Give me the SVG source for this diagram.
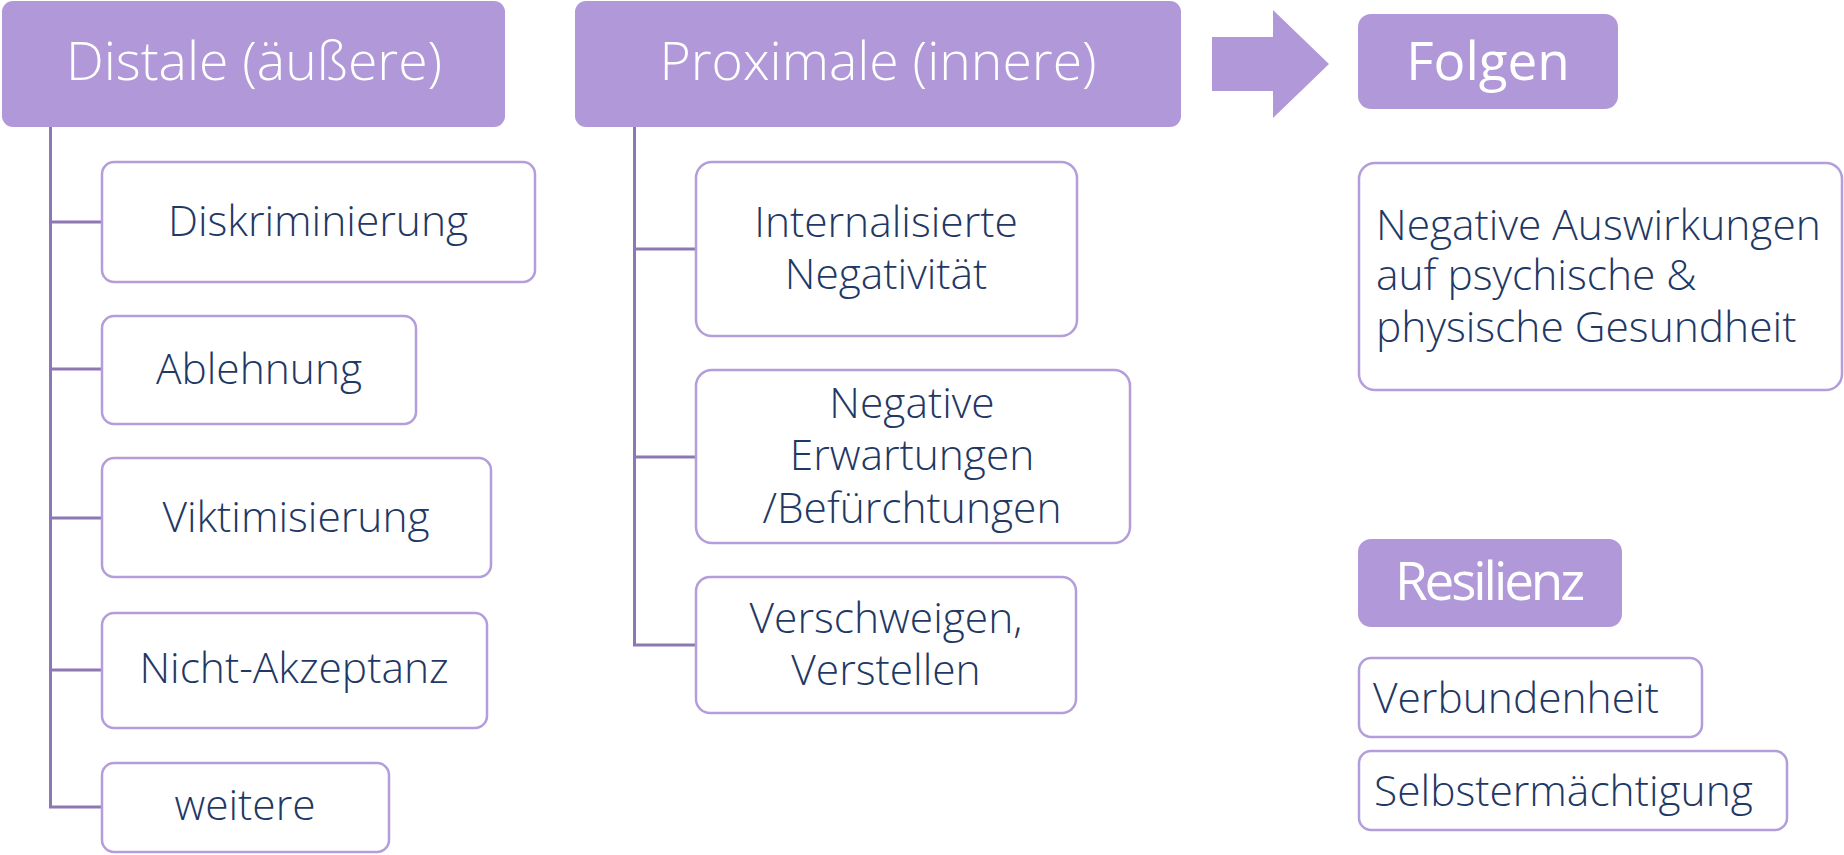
<svg xmlns="http://www.w3.org/2000/svg" width="1844" height="855" viewBox="0 0 1844 855">
<style>
.hdr{fill:#b199d9;}
.box{fill:#ffffff;stroke:#b39ddb;stroke-width:2.5;}
.conn{fill:none;stroke:#8c78b2;stroke-width:3;}
.ht{font-family:"Open Sans","Liberation Sans",sans-serif;font-weight:300;font-size:53.5px;fill:#ffffff;text-anchor:middle;}
.ht2{font-family:"Open Sans","Liberation Sans",sans-serif;font-weight:400;font-size:53px;fill:#ffffff;text-anchor:middle;}
.t{font-family:"Open Sans","Liberation Sans",sans-serif;font-weight:300;font-size:42.5px;fill:#1f3864;text-anchor:middle;}
.tl{font-family:"Open Sans","Liberation Sans",sans-serif;font-weight:300;font-size:42.5px;fill:#1f3864;}
</style>
<rect width="1844" height="855" fill="#ffffff"/>
<g id="connectors">
<polyline class="conn" points="50.5,126 50.5,807 101,807"/>
<line class="conn" x1="50.5" y1="222" x2="101" y2="222"/>
<line class="conn" x1="50.5" y1="369" x2="101" y2="369"/>
<line class="conn" x1="50.5" y1="518" x2="101" y2="518"/>
<line class="conn" x1="50.5" y1="670" x2="101" y2="670"/>
<polyline class="conn" points="634.5,126 634.5,645 695,645"/>
<line class="conn" x1="634.5" y1="249" x2="695" y2="249"/>
<line class="conn" x1="634.5" y1="457" x2="695" y2="457"/>
</g>
<g id="distale">
<rect class="hdr" x="2" y="1" width="503" height="126" rx="11"/>
<text class="ht" x="254" y="80">Distale (äußere)</text>
</g>
<g id="proximale">
<rect class="hdr" x="575" y="1" width="606" height="126" rx="11"/>
<text class="ht" x="878" y="80">Proximale (innere)</text>
</g>
<g id="arrow">
<polygon class="hdr" points="1212,37 1273,37 1273,10 1329,64 1273,118 1273,91 1212,91"/>
</g>
<g id="folgen">
<rect class="hdr" x="1358" y="14" width="260" height="95" rx="13"/>
<text class="ht2" x="1488" y="80">Folgen</text>
</g>
<g id="resilienz">
<rect class="hdr" x="1358" y="539" width="264" height="88" rx="13"/>
<text class="ht2" x="1490" y="600" font-size="51" textLength="190" lengthAdjust="spacing">Resilienz</text>
</g>
<g id="diskriminierung">
<rect class="box" x="102" y="162" width="433" height="120" rx="12"/>
<text class="t" x="318" y="236">Diskriminierung</text>
</g>
<g id="ablehnung">
<rect class="box" x="102" y="316" width="314" height="108" rx="12"/>
<text class="t" x="259" y="384">Ablehnung</text>
</g>
<g id="viktimisierung">
<rect class="box" x="102" y="458" width="389" height="119" rx="12"/>
<text class="t" x="296" y="532">Viktimisierung</text>
</g>
<g id="nicht-akzeptanz">
<rect class="box" x="102" y="613" width="385" height="115" rx="12"/>
<text class="t" x="294" y="683">Nicht-Akzeptanz</text>
</g>
<g id="weitere">
<rect class="box" x="102" y="763" width="287" height="89" rx="12"/>
<text class="t" x="245" y="820">weitere</text>
</g>
<g id="internalisierte">
<rect class="box" x="696" y="162" width="381" height="174" rx="16"/>
<text class="t" x="886" y="237">Internalisierte</text>
<text class="t" x="886" y="289">Negativität</text>
</g>
<g id="erwartungen">
<rect class="box" x="696" y="370" width="434" height="173" rx="16"/>
<text class="t" x="912" y="418">Negative</text>
<text class="t" x="912" y="470">Erwartungen</text>
<text class="t" x="912" y="523">/Befürchtungen</text>
</g>
<g id="verschweigen">
<rect class="box" x="696" y="577" width="380" height="136" rx="14"/>
<text class="t" x="886" y="633">Verschweigen,</text>
<text class="t" x="886" y="685">Verstellen</text>
</g>
<g id="auswirkungen">
<rect class="box" x="1359" y="163" width="483" height="227" rx="16"/>
<text class="tl" x="1376" y="240">Negative Auswirkungen</text>
<text class="tl" x="1376" y="290">auf psychische &amp;</text>
<text class="tl" x="1376" y="342">physische Gesundheit</text>
</g>
<g id="verbundenheit">
<rect class="box" x="1359" y="658" width="343" height="79" rx="12"/>
<text class="tl" x="1373" y="713">Verbundenheit</text>
</g>
<g id="selbstermaechtigung">
<rect class="box" x="1359" y="751" width="428" height="79" rx="12"/>
<text class="tl" x="1374" y="806">Selbstermächtigung</text>
</g>
</svg>
